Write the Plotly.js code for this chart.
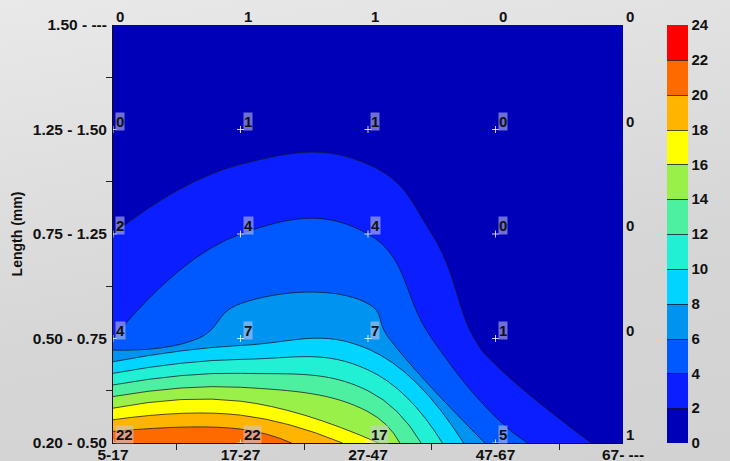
<!DOCTYPE html>
<html>
<head>
<meta charset="utf-8">
<script src="https://cdn.plot.ly/plotly-3.0.1.min.js"></script>
<style>
html,body{margin:0;padding:0;}
body{width:730px;height:461px;background:linear-gradient(170deg,#e9e9e9 0%,#d6d6d6 60%,#d2d2d2 100%);}
#chart{width:730px;height:461px;}
</style>
</head>
<body>
<div id="chart"></div>
<script>
// Categories
const sizeClasses = ["5-17","17-27","27-47","47-67","67- ---"];
const lengthClasses = ["0.20 - 0.50","0.50 - 0.75","0.75 - 1.25","1.25 - 1.50","1.50 - ---"];
// Values (rows = length class from bottom, columns = size class)
const row_020_050 = [22,22,17,5,1];
const row_050_075 = [4,7,7,1,0];
const row_075_125 = [2,4,4,0,0];
const row_125_150 = [0,1,1,0,0];
const row_150_up  = [0,1,1,0,0];
const zRows = [row_020_050,row_050_075,row_075_125,row_125_150,row_150_up];
const barTicks = [0,2,4,6,8,10,12,14,16,18,20,22,24];

const bandColors = ["#0000b8","#0a1eff","#0058ff","#0094f0","#00d4ff","#22f0d4",
  "#4cf0a0","#98f048","#ffff00","#ffb400","#ff6a00","#ff0000"];
const n = bandColors.length - 1;
const cs = [];
bandColors.forEach((c,k)=>{
  const a = k===0 ? 0 : (k-0.5)/n;
  const b = k===n ? 1 : (k+0.5)/n;
  cs.push([a,c]); cs.push([b,c]);
});

const xi = sizeClasses.map((_,i)=>i);
const yi = lengthClasses.map((_,i)=>i);

const boldFont = (s)=>({family:'Liberation Sans, Arial',size:s,color:'#111',weight:'bold'});

const contour = {
  type:'contour', x:xi, y:yi, z:zRows,
  zmin:0, zmax:24,
  colorscale:cs,
  contours:{start:2,end:22,size:2,coloring:'fill',showlines:true},
  line:{color:'rgba(20,20,40,0.75)',width:1,smoothing:1.3},
  colorbar:{x:1.086,xanchor:'left',xpad:0,ypad:0,y:0,yanchor:'bottom',len:1,lenmode:'fraction',
    thickness:21,outlinewidth:0,tickmode:'array',tickvals:barTicks,
    ticks:'',ticklabelposition:'outside',
    tickfont:boldFont(15)},
  hoverinfo:'skip'
};

const px=[],py=[];
const ann=[];
yi.forEach(j=>{
  xi.forEach(i=>{
    const inside = i<4 && j<4;
    if(inside){px.push(i);py.push(j);}
    ann.push({x:i,y:j,xref:'x',yref:'y',text:String(zRows[j][i]),showarrow:false,
      xanchor:'left',yanchor:'bottom',xshift:2,yshift:-1,
      font:boldFont(15),
      bgcolor: inside ? 'rgba(200,200,235,0.55)' : 'rgba(0,0,0,0)',
      borderpad:0});
  });
});

const pts = {type:'scatter',mode:'markers',x:px,y:py,
  marker:{symbol:'cross-thin',size:5,line:{color:'rgba(255,255,255,0.8)',width:1}},
  hoverinfo:'skip',showlegend:false};

const tickFont = boldFont(15.5);
const layout = {
  width:730,height:461,
  paper_bgcolor:'rgba(0,0,0,0)',plot_bgcolor:'#0000b8',
  margin:{l:113,r:107,t:25,b:18},
  showlegend:false,
  xaxis:{range:[0,4],tickmode:'array',tickvals:xi,ticktext:sizeClasses,ticks:'',
    tickfont:tickFont,showgrid:false,zeroline:false,showline:true,linecolor:'#101010',linewidth:1,mirror:false,
    ticklabelstandoff:-3,
    minor:{tickmode:'array',tickvals:[0.5,1.5,2.5,3.5],ticks:'outside',ticklen:6,tickcolor:'#222',showgrid:false},
    fixedrange:true},
  yaxis:{range:[0,4],tickmode:'array',tickvals:yi,ticktext:lengthClasses,ticks:'',
    tickfont:tickFont,showgrid:false,zeroline:false,showline:true,linecolor:'#101010',linewidth:1,
    ticklabelstandoff:2,
    minor:{tickmode:'array',tickvals:[0.5,1.5,2.5,3.5],ticks:'outside',ticklen:6,tickcolor:'#222',showgrid:false},
    title:{text:'Length (mm)',font:boldFont(14),standoff:6},
    fixedrange:true},
  annotations:ann
};
Plotly.newPlot('chart',[contour,pts],layout,{displayModeBar:false,staticPlot:true});
</script>
</body>
</html>
